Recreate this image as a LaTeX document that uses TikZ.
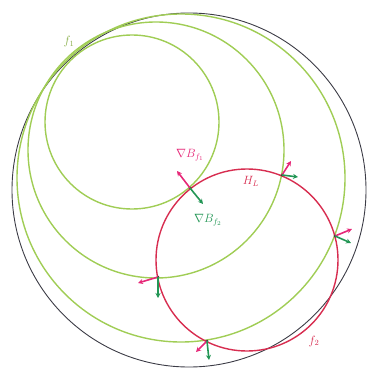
\documentclass[tikz,border=0pt]{standalone}
\usetikzlibrary{arrows.meta}
\definecolor{lime}{RGB}{160,205,85}
\definecolor{redc}{RGB}{215,45,80}
\definecolor{pinkc}{RGB}{230,40,120}
\definecolor{greenc}{RGB}{35,150,85}
\definecolor{blackc}{RGB}{60,60,70}
\tikzset{
  bigcirc/.style={draw=blackc,line width=0.9pt},
  levelset/.style={draw=lime,line width=1.4pt},
  redcirc/.style={draw=redc,line width=1.4pt},
  gradp/.style={draw=pinkc,line width=1.6pt,-{Stealth[length=5pt,width=5pt]}},
  gradg/.style={draw=greenc,line width=1.6pt,-{Stealth[length=5pt,width=5pt]}},
  dotp/.style={fill=black!80,circle,inner sep=0pt,minimum size=3pt},
  lab/.style={font=\large},
}
\begin{document}
\begin{tikzpicture}[x=1pt,y=-1pt]
\useasboundingbox (0,0) rectangle (374,385);
\draw[bigcirc] (189,190) circle (177);
\draw[levelset] (132,122) circle (87);
\draw[levelset] (156,150) circle (128);
\draw[levelset] (181,178) circle (164);
\draw[redcirc] (247,260) circle (91);
% intersection points
\node[dotp] (p1) at (190,188) {};
\node[dotp] (p2) at (282,175) {};
\node[dotp] (p3) at (335,236) {};
\node[dotp] (p4) at (158,277) {};
\node[dotp] (p5) at (207,341) {};
% arrow tips
\coordinate (a1) at (177,171);
\coordinate (b1) at (203,204);
\coordinate (a2) at (291,161);
\coordinate (b2) at (298,177);
\coordinate (a3) at (352,229);
\coordinate (b3) at (351,243);
\coordinate (a4) at (138,283);
\coordinate (b4) at (158,298);
\coordinate (a5) at (196,352);
\coordinate (b5) at (209,360);
\foreach \i in {1,...,5}{
  \draw[gradp] (p\i.center) -- (a\i);
  \draw[gradg] (p\i.center) -- (b\i);
}
\node[lab,text=pinkc] (l1) at (190,155) {$\nabla B_{f_1}$};
\node[lab,text=greenc] (l2) at (208,220) {$\nabla B_{f_2}$};
\node[lab,text=redc] (hl) at (251,181) {$H_L$};
\node[lab,text=lime!85!black] (f1) at (69,42) {$f_1$};
\node[lab,text=redc] (f2) at (314,341) {$f_2$};
\end{tikzpicture}
\end{document}
